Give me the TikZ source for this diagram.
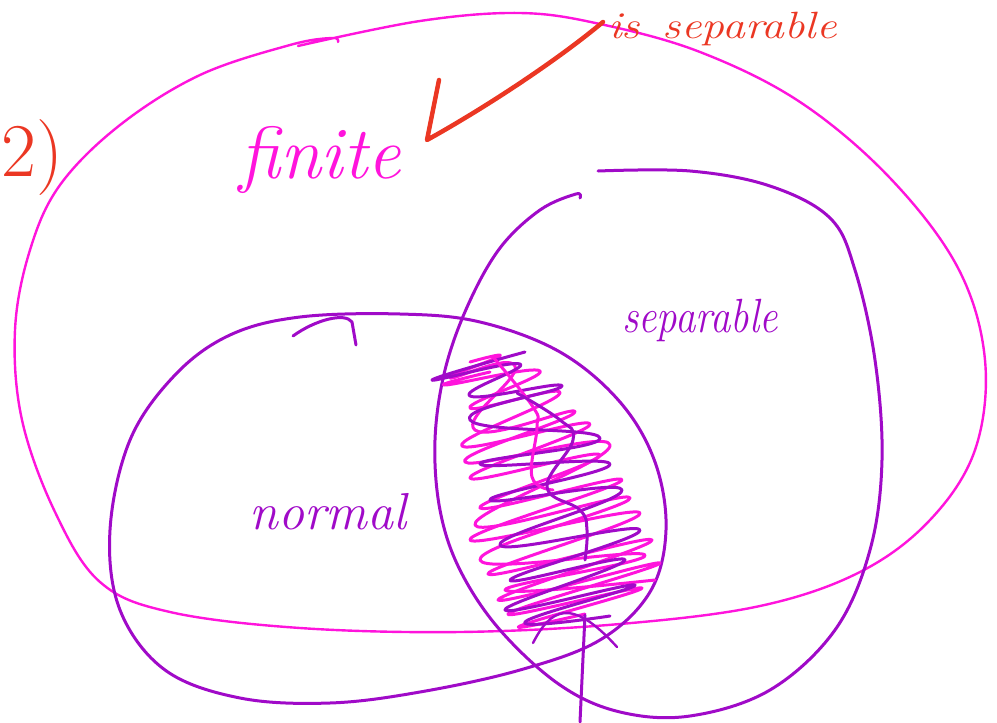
\documentclass[tikz,border=0pt]{standalone}
\usepackage{graphicx}
\definecolor{mag}{RGB}{255,20,220}
\definecolor{pur}{RGB}{160,10,200}
\definecolor{redink}{RGB}{235,55,35}
\tikzset{
  outerink/.style={mag, line width=2.4pt},
  purink/.style={pur, line width=3pt},
  scrib/.style={line width=3pt},
  redstroke/.style={redink, line width=4.5pt},
  label/.style={inner sep=0pt, font=\itshape}
}
\begin{document}
\begin{tikzpicture}[x=1pt,y=-1pt, line cap=round, line join=round]
\useasboundingbox (0,0) rectangle (997,723);
\clip (0,0) rectangle (997,723);

% outer "finite" loop
\draw[outerink] plot[smooth, tension=0.6] coordinates {
 (298,46) (420,21) (520,13) (600,24) (700,52) (800,102) (890,178) (958,268)
 (985,360) (975,450) (930,520) (860,572) (760,606) (620,624) (460,632)
 (300,628) (170,612) (100,582) (55,512) (22,420) (15,330) (30,250) (60,185)
 (120,125) (200,75) (290,45) (332,38) (338,42)};

% separable loop
\draw[purink] plot[smooth, tension=0.6] coordinates {
 (580,198) (576,194) (540,210) (500,248) (468,305) (445,370) (435,440) (440,510)
 (460,570) (500,630) (560,685) (620,712) (690,716) (770,690) (835,630)
 (870,550) (882,460) (875,360) (855,270) (830,218) (770,186) (690,171) (598,171)};

% normal loop
\draw[purink] plot[smooth cycle, tension=0.6] coordinates {
 (300,317) (400,314) (480,322) (560,352) (620,402) (655,462) (666,530)
 (650,592) (600,640) (520,670) (420,692) (330,703) (240,698) (165,670)
 (120,610) (110,530) (130,440) (175,375) (230,335)};
\draw[purink] (293,336) .. controls (315,320) and (345,312) .. (352,322) -- (356,345);

% scribble in the intersection
\draw[mag, scrib] plot[smooth, tension=0.9] coordinates {
 (490,372) (445,385) (540,371) (470,408) (560,393) (462,446) (590,424)
 (470,478) (600,455) (480,508) (622,480) (470,540) (640,513) (488,574)
 (652,540) (498,600) (660,563) (508,614) (642,588) (520,626) (585,614)};
\draw[mag, scrib] plot[smooth, tension=0.9] coordinates {
 (470,362) (500,356) (450,378) (515,366) (475,430) (575,412) (465,462)
 (610,445) (475,525) (630,498) (480,560) (645,555) (505,590) (655,580)};
\draw[pur, scrib] plot[smooth, tension=0.9] coordinates {
 (525,352) (432,380) (520,364) (470,396) (562,386) (470,420) (600,438)
 (480,464) (610,464) (490,500) (622,490) (500,545) (640,530) (510,580)
 (625,560) (505,610) (635,585) (525,622) (610,616)};
\draw[mag, scrib] plot[smooth, tension=0.7] coordinates {
 (493,357) (533,407) (537,427) (532,477) (553,490)};
\draw[pur, scrib] plot[smooth, tension=0.7] coordinates {
 (517,393) (560,420) (573,440) (547,487) (580,510) (587,530) (585,560)};

% strokes at the bottom
\draw[pur, line width=2.4pt] (533,643) .. controls (550,610) and (570,595) .. (617,647);
\draw[pur, line width=3pt] (585,615) -- (580,722);

% red arrow and notes
\draw[redstroke] (439,80) -- (427,140) .. controls (490,105) and (560,58) .. (603,22);
\node[label, text=redink, anchor=base west, font=\itshape\fontsize{38}{38}\selectfont] (is) at (608,38) {\scalebox{1.2}[1]{is\enspace separable}};
\node[label, text=redink, anchor=base west, font=\fontsize{76}{76}\selectfont] (two) at (1,176) {2)};

% labels
\node[label, text=mag, font=\itshape\fontsize{74}{74}\selectfont] (finite) at (320,160) {finite};
\node[label, text=pur, font=\itshape\fontsize{52}{52}\selectfont] (normal) at (328,512) {normal};
\node[label, text=pur, font=\itshape\fontsize{48}{48}\selectfont] (separable) at (700,320) {\scalebox{0.85}[1]{separable}};
\end{tikzpicture}
\end{document}
